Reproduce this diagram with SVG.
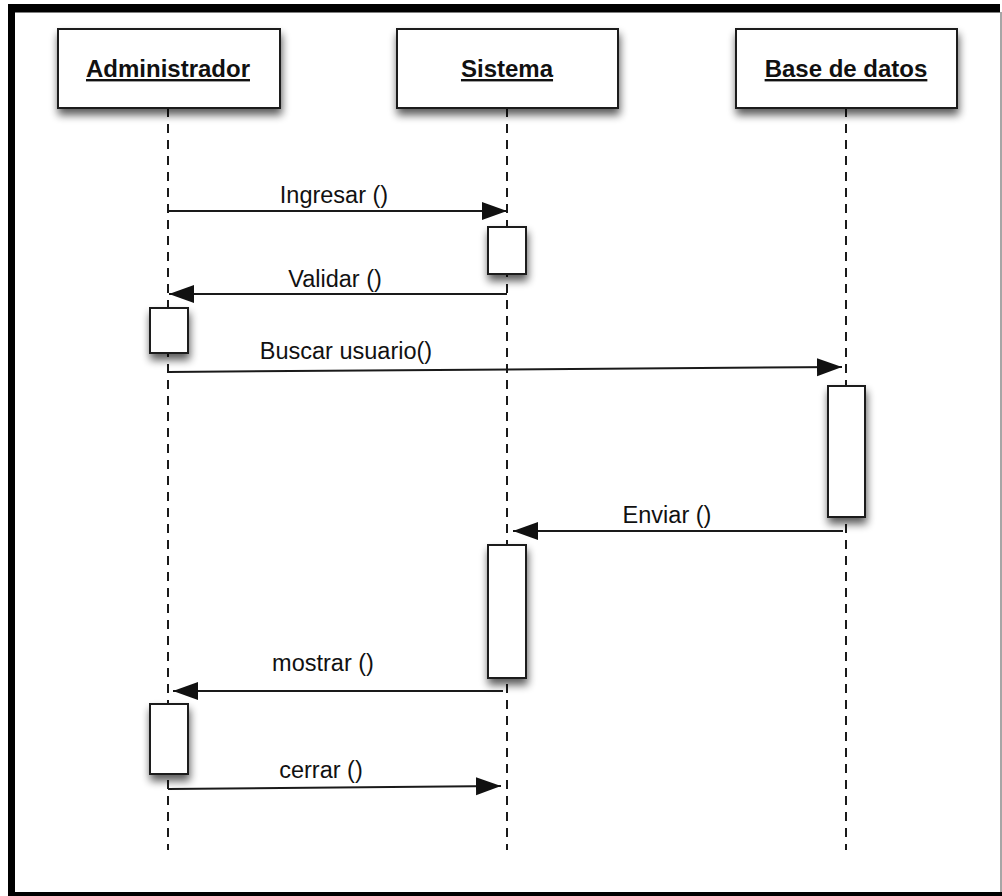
<svg xmlns="http://www.w3.org/2000/svg" width="1002" height="896" viewBox="0 0 1002 896">
  <style>
    .head { fill: #ffffff; stroke: #1a1a1a; stroke-width: 2; }
    .act { fill: #ffffff; stroke: #1a1a1a; stroke-width: 2; }
    .life { stroke: #1a1a1a; stroke-width: 2; stroke-dasharray: 9 7; fill: none; }
    .msg { stroke: #1a1a1a; stroke-width: 2; fill: none; marker-end: url(#arrow); }
    .title { font-family: "Liberation Sans", Arial, sans-serif; font-size: 24px; font-weight: bold; fill: #111111; text-anchor: middle; text-decoration: underline; }
    .label { font-family: "Liberation Sans", Arial, sans-serif; font-size: 23.5px; fill: #111111; text-anchor: middle; }
  </style>
  <defs>
    <filter id="shadow" x="-30%" y="-30%" width="160%" height="170%">
      <feGaussianBlur in="SourceAlpha" stdDeviation="4"/>
      <feOffset dx="1" dy="6" result="b"/>
      <feComponentTransfer><feFuncA type="linear" slope="0.65"/></feComponentTransfer>
      <feMerge><feMergeNode/><feMergeNode in="SourceGraphic"/></feMerge>
    </filter>
    <marker id="arrow" markerUnits="userSpaceOnUse" markerWidth="26" markerHeight="20" refX="25" refY="9" orient="auto">
      <path d="M0,0 L25,9 L0,18 Z" fill="#111111"/>
    </marker>
  </defs>

  <!-- page background and frame -->
  <rect x="0" y="0" width="1002" height="896" fill="#ffffff"/>
  <rect x="8" y="4" width="992" height="8.5" fill="#000000"/>
  <rect x="8" y="4" width="7" height="892" fill="#000000"/>
  <rect x="8" y="892" width="994" height="4" fill="#000000"/>
  <line x1="1001" y1="12" x2="1001" y2="892" stroke="#888888" stroke-width="1.5"/>

  <!-- lifelines -->
  <g id="lifelines">
    <line class="life" x1="168" y1="108" x2="168" y2="850"/>
    <line class="life" x1="507" y1="108" x2="507" y2="850"/>
    <line class="life" x1="846" y1="108" x2="846" y2="850"/>
  </g>

  <!-- participants -->
  <g id="administrador">
    <rect class="head" x="58" y="29" width="222" height="79" filter="url(#shadow)"/>
    <text class="title" x="168" y="77">Administrador</text>
  </g>
  <g id="sistema">
    <rect class="head" x="397" y="29" width="221" height="79" filter="url(#shadow)"/>
    <text class="title" x="507" y="77">Sistema</text>
  </g>
  <g id="base-de-datos">
    <rect class="head" x="736" y="29" width="221" height="79" filter="url(#shadow)"/>
    <text class="title" x="846" y="77">Base de datos</text>
  </g>

  <!-- activation bars -->
  <g id="activations">
    <rect id="act-sistema-1" class="act" x="488" y="227" width="38" height="47" filter="url(#shadow)"/>
    <rect id="act-admin-1" class="act" x="150" y="308" width="38" height="45" filter="url(#shadow)"/>
    <rect id="act-base-1" class="act" x="828" y="386" width="37" height="131" filter="url(#shadow)"/>
    <rect id="act-sistema-2" class="act" x="488" y="545" width="38" height="133" filter="url(#shadow)"/>
    <rect id="act-admin-2" class="act" x="150" y="704" width="38" height="70" filter="url(#shadow)"/>
  </g>

  <!-- messages -->
  <g id="connectors">
    <line class="msg" x1="168" y1="211" x2="507" y2="211"/>
    <line class="msg" x1="507" y1="294" x2="169" y2="294"/>
    <line class="msg" x1="168" y1="372" x2="842" y2="367"/>
    <line class="msg" x1="843" y1="531" x2="513" y2="531"/>
    <line class="msg" x1="503" y1="691" x2="173" y2="691"/>
    <line class="msg" x1="168" y1="789" x2="501" y2="786"/>
  </g>

  <!-- message labels -->
  <g id="labels">
    <text class="label" x="334" y="203">Ingresar ()</text>
    <text class="label" x="335" y="287">Validar ()</text>
    <text class="label" x="346" y="359">Buscar usuario()</text>
    <text class="label" x="667" y="523">Enviar ()</text>
    <text class="label" x="323" y="671">mostrar ()</text>
    <text class="label" x="321" y="778">cerrar ()</text>
  </g>
</svg>
